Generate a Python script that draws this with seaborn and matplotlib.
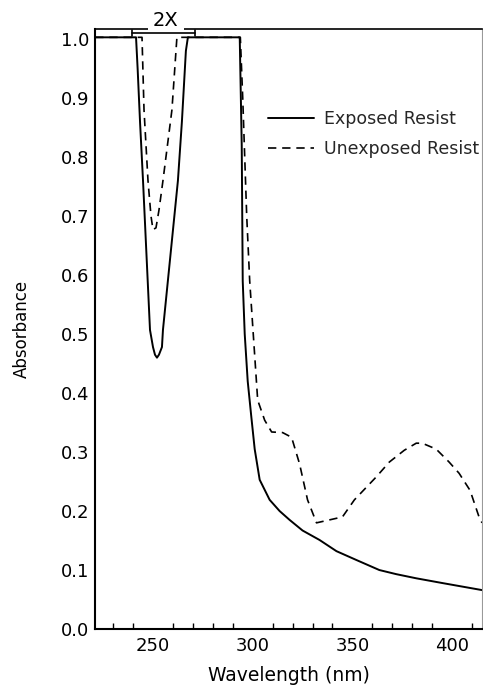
import numpy as np
import pandas as pd
import matplotlib
matplotlib.use("Agg")
import matplotlib.pyplot as plt
import seaborn as sns
from matplotlib.ticker import MultipleLocator, FormatStrFormatter

# Exposed resist (solid)
exp_wl = [221, 241.5, 242.3, 243.5, 245, 248.5, 250, 251, 252, 253, 254.5, 255, 262.5, 264.5, 266.5, 267.5,
          293.5, 294.5, 295, 296, 297.5, 299.3, 301, 303.5, 308.5, 313.5, 318.5, 325, 333.5, 342, 352, 363.5,
          372, 382, 395, 405, 415]
exp_abs = [1.003, 1.003, 0.95, 0.86, 0.76, 0.507, 0.478, 0.465, 0.46, 0.465, 0.478, 0.507, 0.76, 0.86, 0.98, 1.003,
           1.003, 0.82, 0.59, 0.50, 0.42, 0.36, 0.305, 0.253, 0.219, 0.2, 0.185, 0.167, 0.151, 0.132, 0.117, 0.10,
           0.093, 0.086, 0.078, 0.072, 0.066]

# Unexposed resist (dashed)
unexp_wl = [221, 244.5, 245.5, 247.5, 249, 250, 251.5, 253, 255, 259.5, 262, 293.8, 295, 297, 298.5, 302.5, 306,
            309.5, 315, 319.5, 323.5, 327.5, 332, 338.5, 345, 351, 362, 368.5, 376, 382, 385, 392, 398.5, 403.5,
            409, 413.5, 415]
unexp_abs = [1.003, 1.003, 0.88, 0.76, 0.70, 0.677, 0.68, 0.71, 0.76, 0.88, 1.003, 1.003, 0.90, 0.70, 0.59, 0.388, 0.354,
             0.334, 0.333, 0.325, 0.28, 0.219, 0.18, 0.185, 0.19, 0.219, 0.258, 0.283, 0.303, 0.315, 0.315, 0.305,
             0.283, 0.264, 0.235, 0.19, 0.18]

series_names = ["Exposed Resist", "Unexposed Resist"]
x_ticks = [250, 300, 350, 400]
y_ticks = [0.0, 0.1, 0.2, 0.3, 0.4, 0.5, 0.6, 0.7, 0.8, 0.9, 1.0]

sns.set_theme(style="white")
plt.rcParams['font.family'] = ['DejaVu Sans']

fig = plt.figure(figsize=(4.83, 6.92), dpi=100)
ax = fig.add_axes([0.197, 0.091, 0.801, 0.867])

df_exp = pd.DataFrame({"Wavelength": exp_wl, "Absorbance": exp_abs})
df_unexp = pd.DataFrame({"Wavelength": unexp_wl, "Absorbance": unexp_abs})

sns.lineplot(data=df_exp, x="Wavelength", y="Absorbance", ax=ax, color="black",
             linewidth=1.4, label=series_names[0], sort=False)
sns.lineplot(data=df_unexp, x="Wavelength", y="Absorbance", ax=ax, color="black",
             linewidth=1.2, linestyle=(0, (5, 3.5)), label=series_names[1], sort=False)

ax.set_xlim(221, 415)
ax.set_ylim(0, 1.017)
ax.set_xticks(x_ticks)
ax.xaxis.set_minor_locator(MultipleLocator(10))
ax.set_yticks(y_ticks)
ax.yaxis.set_major_formatter(FormatStrFormatter('%.1f'))
ax.tick_params(axis='both', which='major', direction='in', length=6, width=1.2,
               labelsize=13, color='black', labelcolor='black', pad=4)
ax.tick_params(axis='x', which='minor', direction='in', length=4, width=1.0, color='black', bottom=True)
ax.tick_params(axis='x', which='major', length=8, pad=6)

for side in ['left', 'bottom']:
    ax.spines[side].set_color('black')
    ax.spines[side].set_linewidth(1.5)
ax.spines['top'].set_color('black')
ax.spines['top'].set_linewidth(1.2)
ax.spines['right'].set_color('#999999')
ax.spines['right'].set_linewidth(0.8)

ax.set_xlabel("Wavelength (nm)", fontsize=13.5, color='black', labelpad=8)
ax.set_ylabel("Absorbance", fontsize=12, color='black', labelpad=22)

# 2X bracket annotation
ax.text(256.5, 1.031, "2X", ha='center', va='center', fontsize=14, color='black',
        bbox=dict(facecolor='white', edgecolor='none', pad=3.5), clip_on=False, zorder=5)
ax.plot([239.5, 271], [1.011, 1.011], color='black', lw=1.2, clip_on=False, zorder=6)
ax.plot([239.5, 239.5], [1.005, 1.015], color='black', lw=1.2, clip_on=False, zorder=6)
ax.plot([271, 271], [1.005, 1.015], color='black', lw=1.2, clip_on=False, zorder=6)

leg = ax.legend(loc='upper left', bbox_to_anchor=(0.43, 0.877), frameon=False,
                fontsize=12.5, handlelength=2.6, handletextpad=0.6, labelspacing=0.68,
                borderaxespad=0)

fig.savefig("out.png", dpi=100)
